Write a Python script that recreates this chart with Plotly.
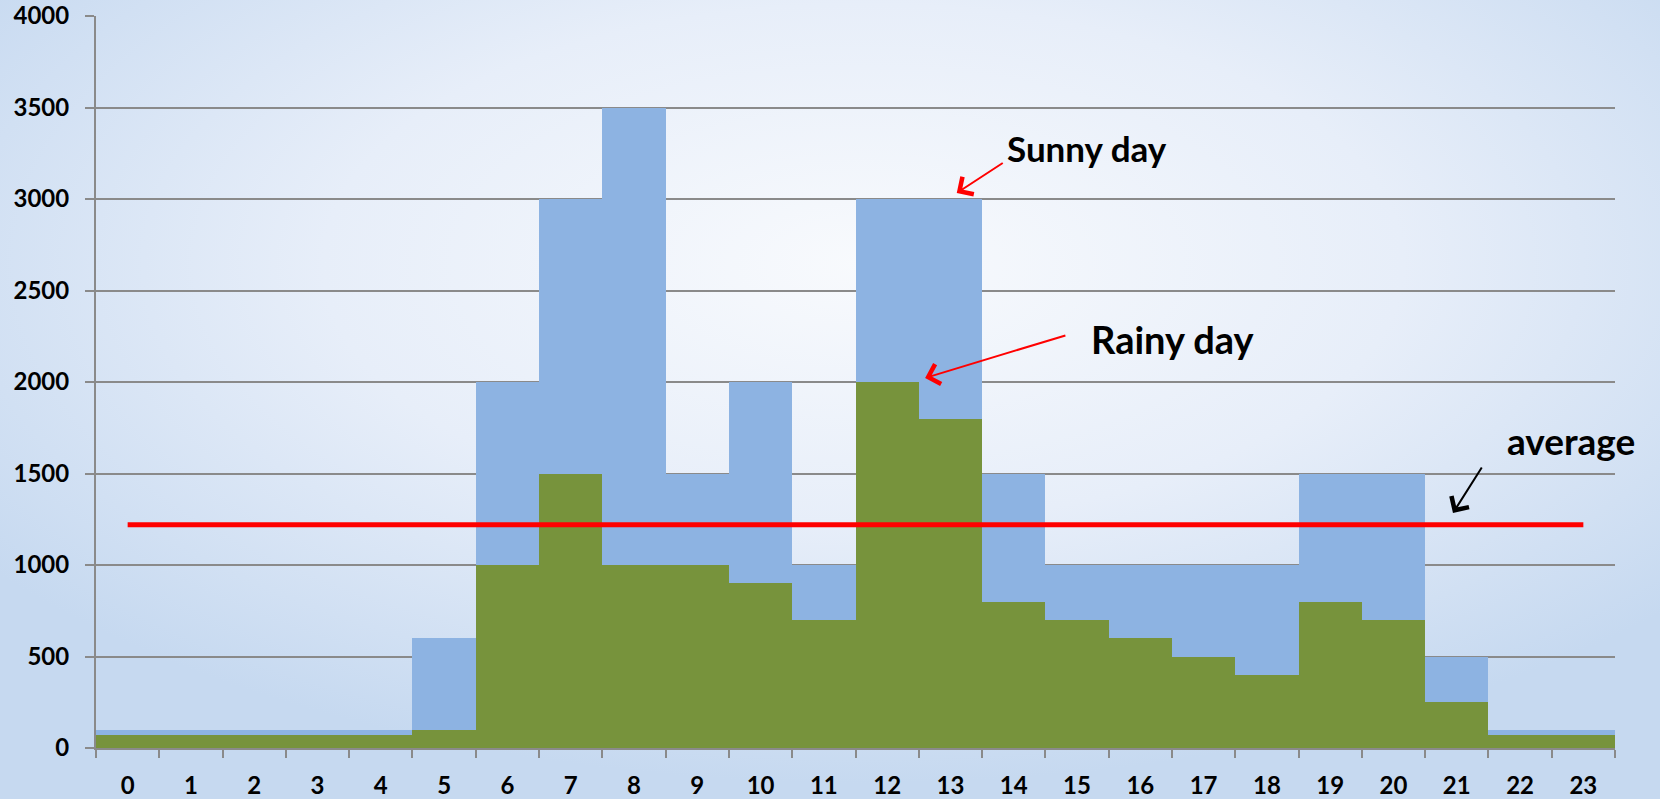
import base64
import plotly.graph_objects as go

hours = list(range(24))
hour_labels = [str(h) for h in hours]
sunny = [100, 100, 100, 100, 100, 600, 2000, 3000, 3500, 1500, 2000, 1000,
         3000, 3000, 1500, 1000, 1000, 1000, 1000, 1500, 1500, 500, 100, 100]
rainy = [70, 70, 70, 70, 70, 100, 1000, 1500, 1000, 1000, 900, 700,
         2000, 1800, 800, 700, 600, 500, 400, 800, 700, 250, 70, 70]
average = 1220
y_ticks = list(range(0, 4001, 500))

FONT = "Lato"
GRID = "#8a8a8a"

svg = """<svg xmlns='http://www.w3.org/2000/svg' width='1660' height='799' preserveAspectRatio='none'>
<defs><radialGradient id='g' cx='0.52' cy='0.33' r='0.65' gradientUnits='objectBoundingBox'>
<stop offset='0' stop-color='#f8fafd'/><stop offset='0.5' stop-color='#e7eef9'/>
<stop offset='1' stop-color='#c6d9f0'/></radialGradient></defs>
<rect width='1660' height='799' fill='url(#g)'/></svg>"""
bg_src = "data:image/svg+xml;base64," + base64.b64encode(svg.encode()).decode()

fig = go.Figure()
fig.add_trace(go.Bar(x=hours, y=sunny, marker=dict(color="#8db3e2", line=dict(width=0)),
                     width=1, name="Sunny day"))
fig.add_trace(go.Bar(x=hours, y=rainy, marker=dict(color="#77933c", line=dict(width=0)),
                     width=1, name="Rainy day"))
fig.add_trace(go.Scatter(x=[hours[0], hours[-1]], y=[average, average], mode="lines",
                         line=dict(color="#ff0000", width=5), name="average"))

texts = [("Sunny day", 15.16, 3279, 35), ("Rainy day", 16.51, 2235, 38), ("average", 22.8, 1678, 37)]
for t, x, y, s in texts:
    fig.add_annotation(x=x, y=y, text=t, showarrow=False,
                       font=dict(family=FONT, size=s, color="#000000", weight="bold"),
                       xanchor="center", yanchor="middle")

arrows = [(13.10, 3033, 13.85, 3202, "#ff0000"),
          (12.60, 2022, 14.84, 2257, "#ff0000"),
          (20.94, 1284, 21.41, 1541, "#000000")]
for x, y, ax, ay, c in arrows:
    fig.add_annotation(x=x, y=y, ax=ax, ay=ay, axref="x", ayref="y", text="",
                       showarrow=True, arrowhead=4, arrowsize=2, arrowwidth=2, arrowcolor=c)

fig.update_layout(
    width=1660, height=799,
    barmode="overlay", bargap=0,
    showlegend=False,
    margin=dict(l=96, r=45, t=16, b=51),
    paper_bgcolor="#d6e3f4", plot_bgcolor="rgba(0,0,0,0)",
    images=[dict(source=bg_src, xref="paper", yref="paper",
                 x=-96 / 1519, y=1 + 16 / 732, sizex=1660 / 1519, sizey=799 / 732,
                 sizing="stretch", layer="below", xanchor="left", yanchor="top")],
    xaxis=dict(range=[-0.5, 23.5], tickmode="array", tickvals=hours, ticktext=hour_labels,
               ticks="", showgrid=False, zeroline=False, automargin=False,
               showline=True, linecolor=GRID, linewidth=2,
               minor=dict(ticks="outside", tick0=-0.5, dtick=1, ticklen=8, tickwidth=2,
                          tickcolor=GRID, showgrid=False),
               tickfont=dict(family=FONT, size=24, color="#000000", weight="bold"),
               ticklabelstandoff=15),
    yaxis=dict(range=[0, 4000], tickmode="array", tickvals=y_ticks, automargin=False,
               ticks="outside", ticklen=9, tickwidth=2, tickcolor=GRID,
               showgrid=True, gridcolor=GRID, gridwidth=2, zeroline=False,
               showline=True, linecolor=GRID, linewidth=2,
               tickfont=dict(family=FONT, size=24, color="#000000", weight="bold"),
               ticklabelstandoff=11),
)

fig.write_html("out.html", config={"displayModeBar": False},
               post_script="document.body.style.margin='0';document.body.style.overflow='hidden';")
